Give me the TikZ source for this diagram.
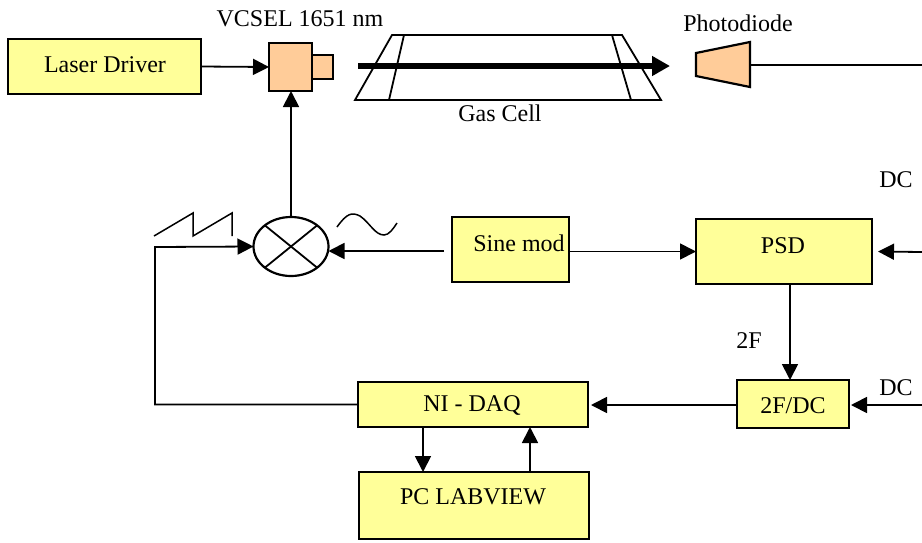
\documentclass[tikz,border=0pt]{standalone}
\usepackage{fontspec}
\setmainfont{Liberation Serif}
\usetikzlibrary{arrows.meta,shapes.geometric}

\definecolor{boxyellow}{HTML}{FFFF99}
\definecolor{partorange}{HTML}{FFCC99}

\tikzset{
  every node/.style={font=\fontsize{24}{28}\selectfont, inner sep=0pt, outer sep=0pt},
  yellowbox/.style={draw, line width=2.2pt, fill=boxyellow},
  orangebox/.style={draw, line width=2.2pt, fill=partorange},
  wire/.style={line width=1.8pt, -{Triangle[length=16pt,width=16pt]}},
  plainwire/.style={line width=1.8pt},
  cellline/.style={line width=1.8pt}
}

\begin{document}
\begin{tikzpicture}[x=1pt, y=-1pt]

\useasboundingbox (0,0) rectangle (922,542);

\node[yellowbox, minimum width=193pt, minimum height=55pt] (laser) at (104.5,66.5) {};
\node (lasertext) at (105,65) {Laser Driver};

\node[orangebox, minimum width=21pt, minimum height=24pt] (vcseltip) at (322.5,67) {};
\node[orangebox, minimum width=43pt, minimum height=48pt] (vcsel) at (290.5,67) {};
\node (vcseltext) at (300,18.5) {VCSEL 1651 nm};
\draw[wire] (laser.east) -- (vcsel.west);

\draw[cellline] (355,100) -- (392,35) -- (622,35) -- (661,100) -- cycle;
\draw[cellline] (404,35) -- (389,100);
\draw[cellline] (612,35) -- (631,100);
\coordinate (beamstart) at (358,66);
\coordinate (beamend) at (670,66);
\draw[line width=6pt, -{Triangle[length=18pt,width=19pt]}] (beamstart) -- (beamend);
\node (celltext) at (500,113.5) {Gas Cell};

\draw[orangebox] (696,53) -- (750,42) -- (750,87) -- (696,76) -- cycle;
\coordinate (diodeout) at (750,65);
\coordinate (diodeend) at (922,65);
\draw[plainwire] (diodeout) -- (diodeend);
\node (diodetext) at (738,23) {Photodiode};

\node[ellipse, draw, line width=2.2pt, minimum width=75pt, minimum height=59pt] (mixer) at (291,246.5) {};
\draw[line width=1.8pt] (mixer.141) -- (mixer.321);
\draw[line width=1.8pt] (mixer.39) -- (mixer.219);
\draw[wire] (mixer.north) -- (mixer.north |- vcsel.south);

\draw[line width=1.5pt] (154,236) -- (193,213) -- (193,236) -- (232,213) -- (232,236);
\draw[line width=1.5pt] (337,227) .. controls (347,213) and (352,212) .. (360,216)
  .. controls (370,223) and (375,235) .. (384,235) .. controls (389,235) and (393,229) .. (397,223);

\node[yellowbox, minimum width=117pt, minimum height=65pt] (sinemod) at (510.5,249.5) {};
\node (sinetext) at (519,243.5) {Sine mod};
\coordinate (sineout) at (444,251);
\draw[wire] (sineout) -- (mixer.east |- sineout);

\node[yellowbox, minimum width=176pt, minimum height=65pt] (psd) at (784,251.5) {};
\node (psdtext) at (783,245.5) {PSD};
\draw[wire] (sinemod.east |- psd.west) -- (psd.west);
\coordinate (dctop) at (922,252);
\draw[wire] (dctop) -- ([xshift=6pt]psd.east);
\node (dctoptext) at (896,180) {DC};

\node[yellowbox, minimum width=112pt, minimum height=48pt] (ratio) at (793,404) {};
\node (ratiotext) at (793,405.5) {2F/DC};
\draw[wire] ([xshift=6pt]psd.south) -- ([xshift=6pt]psd.south |- ratio.north);
\node (twoftext) at (749,340.5) {2F};
\coordinate (dcbottom) at (922,405);
\draw[wire] (dcbottom) -- ([xshift=2pt]dcbottom -| ratio.east);
\node (dcbottomtext) at (896,388) {DC};

\node[yellowbox, minimum width=230pt, minimum height=45pt] (nidaq) at (473,404.5) {};
\node (nidaqtext) at (472,405) {NI - DAQ};
\draw[wire] (ratio.west |- dcbottom) -- ([xshift=3pt]nidaq.east |- dcbottom);

\node[yellowbox, minimum width=230pt, minimum height=67pt] (pc) at (474,505.5) {};
\node (pctext) at (473,496.5) {PC LABVIEW};
\draw[wire] ([xshift=-50pt]nidaq.south) -- ([xshift=-50pt]nidaq.south |- pc.north);
\draw[wire] ([xshift=56pt]pc.north) -- ([xshift=56pt]pc.north |- nidaq.south);

\coordinate (rampcorner) at (155,247);
\draw[wire] (nidaq.west) -| (rampcorner) -- (mixer.west);

\end{tikzpicture}
\end{document}
